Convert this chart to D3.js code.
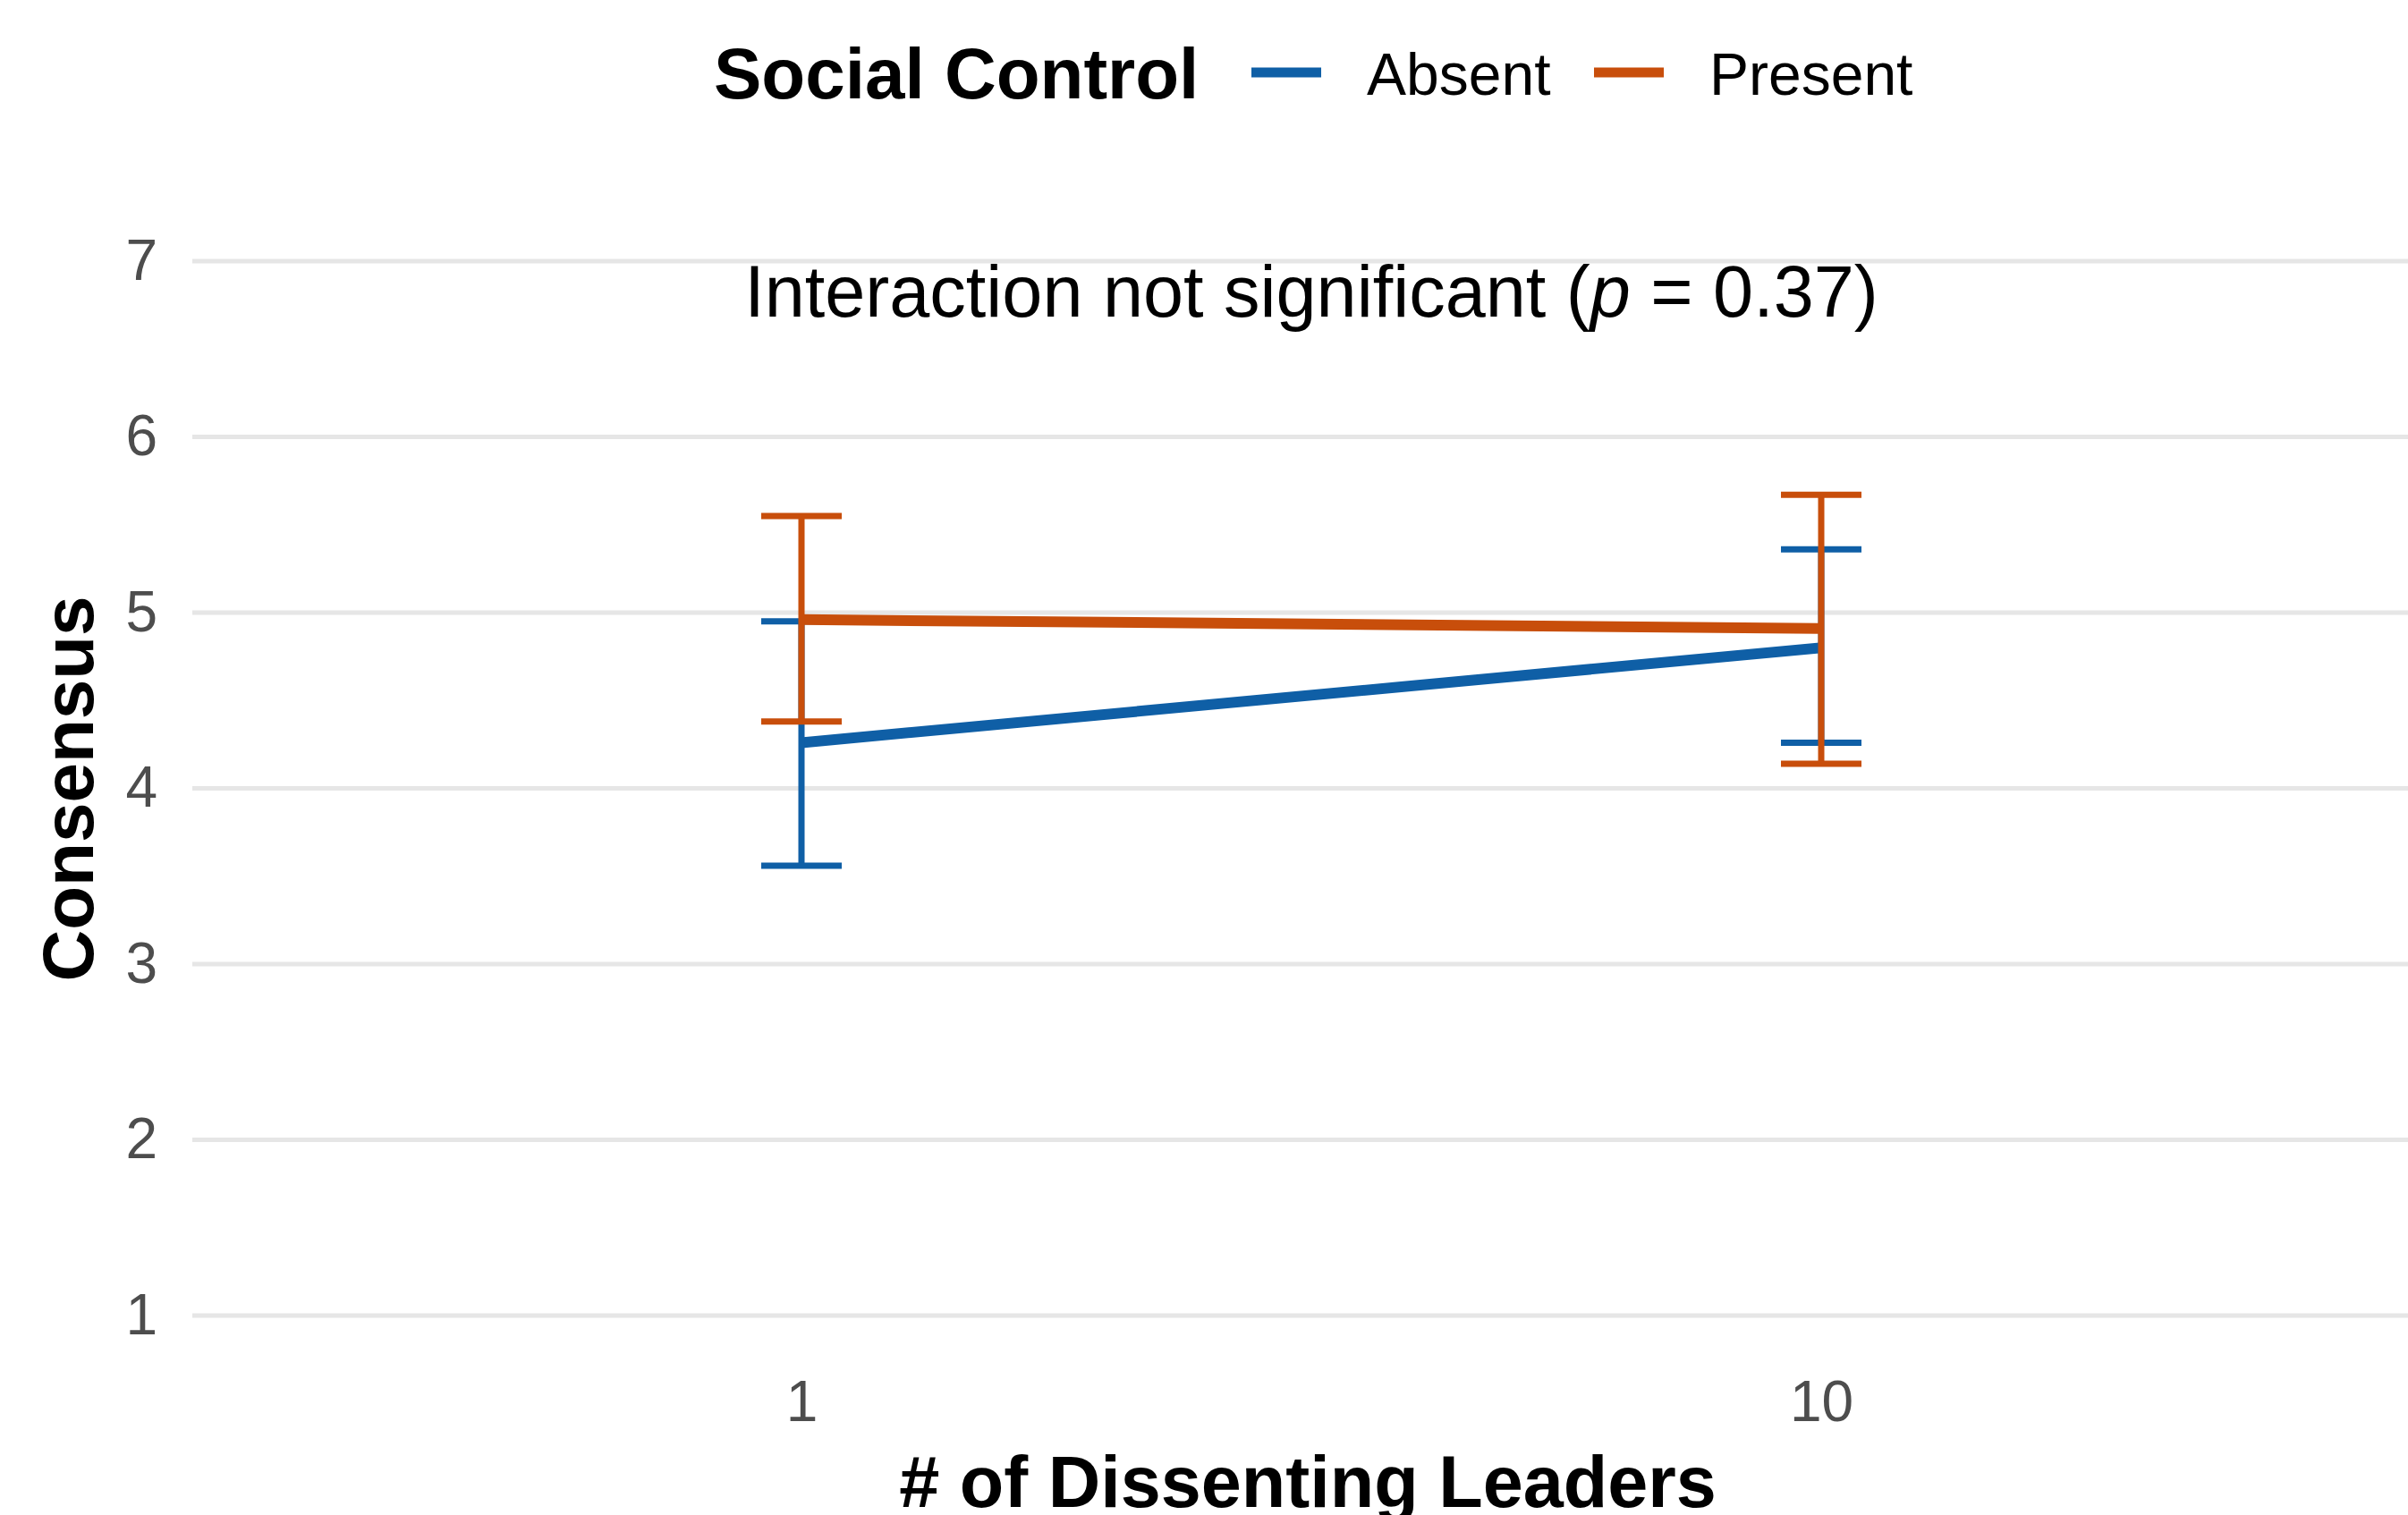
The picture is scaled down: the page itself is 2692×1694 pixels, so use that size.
<!DOCTYPE html>
<html>
<head>
<meta charset="utf-8">
<script src="https://cdn.jsdelivr.net/npm/d3@7"></script>
<style>
  body { margin: 0; background: #fff; }
  text { font-family: "Liberation Sans", Arial, Helvetica, sans-serif; }
</style>
</head>
<body>
<svg></svg>
<script>
var width = 2692,
    height = 1694

// data
var leaders = ["1", "10"]
var groups = ["Absent", "Present"]
var colors = ["#0f5fa6", "#c84e0b"]
var absentMean = [4.26, 4.80]
var absentUpper = [4.95, 5.36]
var absentLower = [3.56, 4.26]
var presentMean = [4.96, 4.91]
var presentUpper = [5.55, 5.67]
var presentLower = [4.38, 4.14]
var yTicks = [1, 2, 3, 4, 5, 6, 7]

var series = [
    { name: groups[0], color: colors[0], mean: absentMean, upper: absentUpper, lower: absentLower },
    { name: groups[1], color: colors[1], mean: presentMean, upper: presentUpper, lower: presentLower }
]

var x = d3.scalePoint().domain(leaders).range([212, 2720]).padding(0.6)
var y = d3.scaleLinear().domain([1, 7]).range([1471, 292])

var svg = d3.select("svg")
    .attr("width", width)
    .attr("height", height)

svg.append("rect").attr("width", width).attr("height", height).attr("fill", "#fff")

// grid lines
svg.append("g").selectAll("line").data(yTicks).enter().append("line")
    .attr("x1", 215).attr("x2", width)
    .attr("y1", d => y(d)).attr("y2", d => y(d))
    .attr("stroke", "#e6e6e6").attr("stroke-width", 5)

// y axis
var yAxis = svg.append("g")
    .attr("transform", "translate(196,0)")
    .call(d3.axisLeft(y).tickValues(yTicks).tickSize(0).tickPadding(20).tickFormat(d3.format("d")))
yAxis.select(".domain").remove()
yAxis.selectAll("text").attr("font-size", 64).attr("fill", "#4d4d4d")
    .attr("font-family", "Liberation Sans, Arial, sans-serif")

// x axis
var xAxis = svg.append("g")
    .attr("transform", "translate(0,1520)")
    .call(d3.axisBottom(x).tickSize(0).tickPadding(24))
xAxis.select(".domain").remove()
xAxis.selectAll("text").attr("font-size", 64).attr("fill", "#4d4d4d")
    .attr("font-family", "Liberation Sans, Arial, sans-serif")

// axis titles
svg.append("text")
    .attr("x", 1462).attr("y", 1685)
    .attr("text-anchor", "middle").attr("font-size", 81).attr("font-weight", "bold")
    .text("# of Dissenting Leaders")

svg.append("text")
    .attr("transform", "translate(104,882) rotate(-90)")
    .attr("text-anchor", "middle").attr("font-size", 80).attr("font-weight", "bold")
    .text("Consensus")

// annotation
var note = svg.append("text")
    .attr("x", (x("1") + x("10")) / 2).attr("y", 354)
    .attr("text-anchor", "middle").attr("font-size", 81)
note.append("tspan").text("Interaction not significant (")
note.append("tspan").attr("font-style", "italic").text("p")
note.append("tspan").text(" = 0.37)")

var line = d3.line()
    .x((d, i) => x(leaders[i]))
    .y(d => y(d))

series.forEach(function(s) {
    var g = svg.append("g")
    g.append("path")
        .attr("d", line(s.mean))
        .attr("fill", "none").attr("stroke", s.color).attr("stroke-width", 12)

    var bars = g.selectAll(".err").data(leaders).enter().append("g").attr("class", "err")
    bars.append("line")
        .attr("x1", d => x(d)).attr("x2", d => x(d))
        .attr("y1", (d, i) => y(s.upper[i])).attr("y2", (d, i) => y(s.lower[i]))
        .attr("stroke", s.color).attr("stroke-width", 7)
    bars.append("line")
        .attr("x1", d => x(d) - 45).attr("x2", d => x(d) + 45)
        .attr("y1", (d, i) => y(s.upper[i])).attr("y2", (d, i) => y(s.upper[i]))
        .attr("stroke", s.color).attr("stroke-width", 7)
    bars.append("line")
        .attr("x1", d => x(d) - 45).attr("x2", d => x(d) + 45)
        .attr("y1", (d, i) => y(s.lower[i])).attr("y2", (d, i) => y(s.lower[i]))
        .attr("stroke", s.color).attr("stroke-width", 7)
})

// legend
var legend = svg.append("g")
legend.append("text")
    .attr("x", 798).attr("y", 110)
    .attr("font-size", 80).attr("font-weight", "bold")
    .text("Social Control")

var keyX = [1399, 1782]
var item = legend.selectAll(".item").data(series).enter().append("g").attr("class", "item")
item.append("line")
    .attr("x1", (d, i) => keyX[i]).attr("x2", (d, i) => keyX[i] + 78)
    .attr("y1", 81).attr("y2", 81)
    .attr("stroke", d => d.color).attr("stroke-width", 11)
item.append("text")
    .attr("x", (d, i) => keyX[i] + 129).attr("y", 106)
    .attr("font-size", 66)
    .text(d => d.name)
</script>
</body>
</html>
